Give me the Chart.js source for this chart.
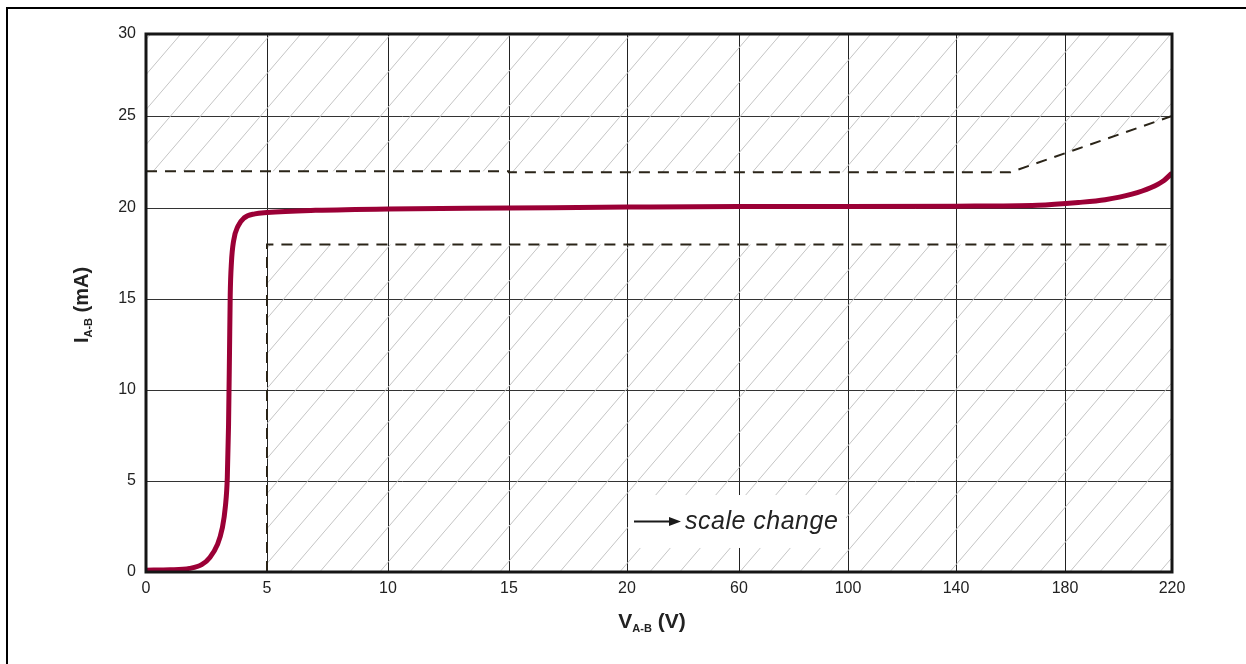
<!DOCTYPE html>
<html>
<head>
<meta charset="utf-8">
<script src="https://cdn.jsdelivr.net/npm/chart.js@4.4.1/dist/chart.umd.min.js"></script>
<style>
  html, body { margin: 0; padding: 0; background: #fff; }
</style>
</head>
<body>
<canvas id="chart" width="1246" height="664"></canvas>
<script>
// tick values on both axes (x has a scale change after 20 V)
const xTickValues = [0, 5, 10, 15, 20, 60, 100, 140, 180, 220];
const yTickValues = [0, 5, 10, 15, 20, 25, 30];

// measured I-V curve, V in volts, I in mA
const curveV = [0, 1, 1.8, 2.3, 2.64, 2.95, 3.15, 3.28, 3.36, 3.41, 3.45, 3.48, 3.53, 3.62, 3.8, 4.05, 4.5, 5, 7, 10, 15, 20, 60, 100, 140, 170, 185, 195, 205, 212, 217, 220];
const curveI = [0.1, 0.12, 0.2, 0.4, 0.8, 1.5, 2.4, 3.6, 5.2, 8, 12, 15.2, 17.0, 18.2, 19.0, 19.45, 19.68, 19.75, 19.87, 19.95, 20.0, 20.05, 20.08, 20.08, 20.1, 20.15, 20.3, 20.45, 20.75, 21.1, 21.5, 21.9];

// tolerance limits (dashed)
const upperLimitV = [0, 15, 15, 160, 220];
const upperLimitI = [22, 22, 21.94, 21.94, 25];
const lowerLimitV = [5, 5, 220];
const lowerLimitI = [0, 18, 18];

// layout only: relative length of each tick interval, the source axes are not uniform
const xGaps = [121, 121, 121, 118, 112, 109, 108, 109, 107];
const yGaps = [91, 91, 91, 91, 92, 82];

const FONT = '"Liberation Sans", Arial, Helvetica, sans-serif';

function piecewise(ticks, gaps) {
  return v => {
    let acc = 0;
    for (let i = 0; i < gaps.length; i++) {
      const a = ticks[i], b = ticks[i + 1];
      if (v <= b || i === gaps.length - 1) return acc + (v - a) / (b - a) * gaps[i];
      acc += gaps[i];
    }
    return acc;
  };
}
const sum = arr => arr.reduce((s, g) => s + g, 0);
const xPos = piecewise(xTickValues, xGaps);
const yPos = piecewise(yTickValues, yGaps);
const toPoints = (xs, ys) => xs.map((v, i) => ({ x: xPos(v), y: yPos(ys[i]) }));

function makeHatch() {
  const c = document.createElement('canvas');
  c.width = 30; c.height = 35;
  const g = c.getContext('2d');
  g.strokeStyle = '#c4c4c4';
  g.lineWidth = 1;
  [-30, 0, 30].forEach(dx => {
    g.beginPath();
    g.moveTo(dx, 35);
    g.lineTo(dx + 30, 0);
    g.stroke();
  });
  return g.createPattern(c, 'repeat');
}
const hatch = makeHatch();

function drawParts(ctx, parts, cx, cy) {
  let total = 0;
  parts.forEach(p => { ctx.font = p.font; p.w = ctx.measureText(p.text).width; total += p.w; });
  let x = cx - total / 2;
  parts.forEach(p => {
    ctx.font = p.font;
    ctx.fillText(p.text, x, cy + (p.dy || 0));
    x += p.w;
  });
}

const decor = {
  id: 'decor',
  afterDatasetsDraw(chart) {
    const { ctx, chartArea: a, scales: { x, y } } = chart;
    ctx.save();

    // "scale change" note box
    const bl = x.getPixelForValue(xPos(20)) + 1;
    const br = x.getPixelForValue(xPos(100)) - 2;
    const bt = y.getPixelForValue(yPos(4.23));
    const bb = y.getPixelForValue(yPos(1.32));
    ctx.fillStyle = '#fff';
    ctx.fillRect(bl, bt, br - bl, bb - bt);
    const ay = (bt + bb) / 2;
    ctx.strokeStyle = '#1a1a1a';
    ctx.fillStyle = '#1a1a1a';
    ctx.lineWidth = 2;
    ctx.beginPath();
    ctx.moveTo(bl + 6, ay);
    ctx.lineTo(bl + 44, ay);
    ctx.stroke();
    ctx.beginPath();
    ctx.moveTo(bl + 53, ay);
    ctx.lineTo(bl + 41, ay - 4.5);
    ctx.lineTo(bl + 41, ay + 4.5);
    ctx.closePath();
    ctx.fill();
    ctx.font = 'italic 25px ' + FONT;
    ctx.letterSpacing = '0.5px';
    ctx.textBaseline = 'alphabetic';
    ctx.fillStyle = '#222';
    ctx.fillText('scale change', bl + 57, ay + 8);
    ctx.letterSpacing = '0px';

    // plot frame
    ctx.strokeStyle = '#161616';
    ctx.lineWidth = 3;
    ctx.strokeRect(a.left, a.top, a.right - a.left, a.bottom - a.top);

    // axis titles with subscripts
    ctx.fillStyle = '#222';
    ctx.textAlign = 'left';
    drawParts(ctx, [
      { text: 'V', font: 'bold 21px ' + FONT },
      { text: 'A-B', font: 'bold 11px ' + FONT, dy: 4 },
      { text: ' (V)', font: 'bold 21px ' + FONT }
    ], (a.left + a.right) / 2 - 7, 628);

    ctx.save();
    ctx.translate(88, (a.top + a.bottom) / 2 + 2);
    ctx.rotate(-Math.PI / 2);
    drawParts(ctx, [
      { text: 'I', font: 'bold 20px ' + FONT },
      { text: 'A-B', font: 'bold 11px ' + FONT, dy: 4 },
      { text: ' (mA)', font: 'bold 20px ' + FONT }
    ], 0, 0);
    ctx.restore();

    // outer figure border (top and left)
    ctx.fillStyle = '#000';
    ctx.fillRect(6, 7, 1240, 2);
    ctx.fillRect(6, 7, 2, 657);
    ctx.restore();
  }
};

const lineBase = { pointRadius: 0, pointHoverRadius: 0, tension: 0 };

new Chart(document.getElementById('chart'), {
  type: 'line',
  data: {
    datasets: [
      {
        ...lineBase,
        label: 'I A-B',
        data: toPoints(curveV, curveI),
        borderColor: '#9b0036',
        borderWidth: 5,
        cubicInterpolationMode: 'monotone',
        fill: false
      },
      {
        ...lineBase,
        label: 'upper limit',
        data: toPoints(upperLimitV, upperLimitI),
        borderColor: '#2a2418',
        borderWidth: 2,
        borderDash: [11, 8],
        fill: 'end',
        backgroundColor: hatch
      },
      {
        ...lineBase,
        label: 'lower limit',
        data: toPoints(lowerLimitV, lowerLimitI),
        borderColor: '#2a2418',
        borderWidth: 2,
        borderDash: [11, 8],
        fill: 'start',
        backgroundColor: hatch
      }
    ]
  },
  options: {
    responsive: false,
    animation: false,
    devicePixelRatio: 1,
    layout: { padding: { left: 0, top: 34, right: 74, bottom: 0 } },
    plugins: {
      legend: { display: false },
      tooltip: { enabled: false }
    },
    scales: {
      x: {
        type: 'linear',
        min: 0,
        max: sum(xGaps),
        afterBuildTicks: s => { s.ticks = xTickValues.map(v => ({ value: xPos(v) })); },
        afterFit: s => { s.height = 92; },
        ticks: {
          autoSkip: false,
          maxRotation: 0,
          padding: 7,
          color: '#222',
          font: { family: FONT, size: 16 },
          callback: (v, i) => xTickValues[i]
        },
        grid: { color: '#222', lineWidth: 1, drawTicks: false },
        border: { display: false }
      },
      y: {
        type: 'linear',
        min: 0,
        max: sum(yGaps),
        afterBuildTicks: s => { s.ticks = yTickValues.map(v => ({ value: yPos(v) })); },
        afterFit: s => { s.width = 146; },
        ticks: {
          autoSkip: false,
          padding: 10,
          color: '#222',
          font: { family: FONT, size: 16 },
          callback: (v, i) => yTickValues[i]
        },
        grid: { color: '#333', lineWidth: 1, drawTicks: false },
        border: { display: false }
      }
    }
  },
  plugins: [decor]
});
</script>
</body>
</html>
